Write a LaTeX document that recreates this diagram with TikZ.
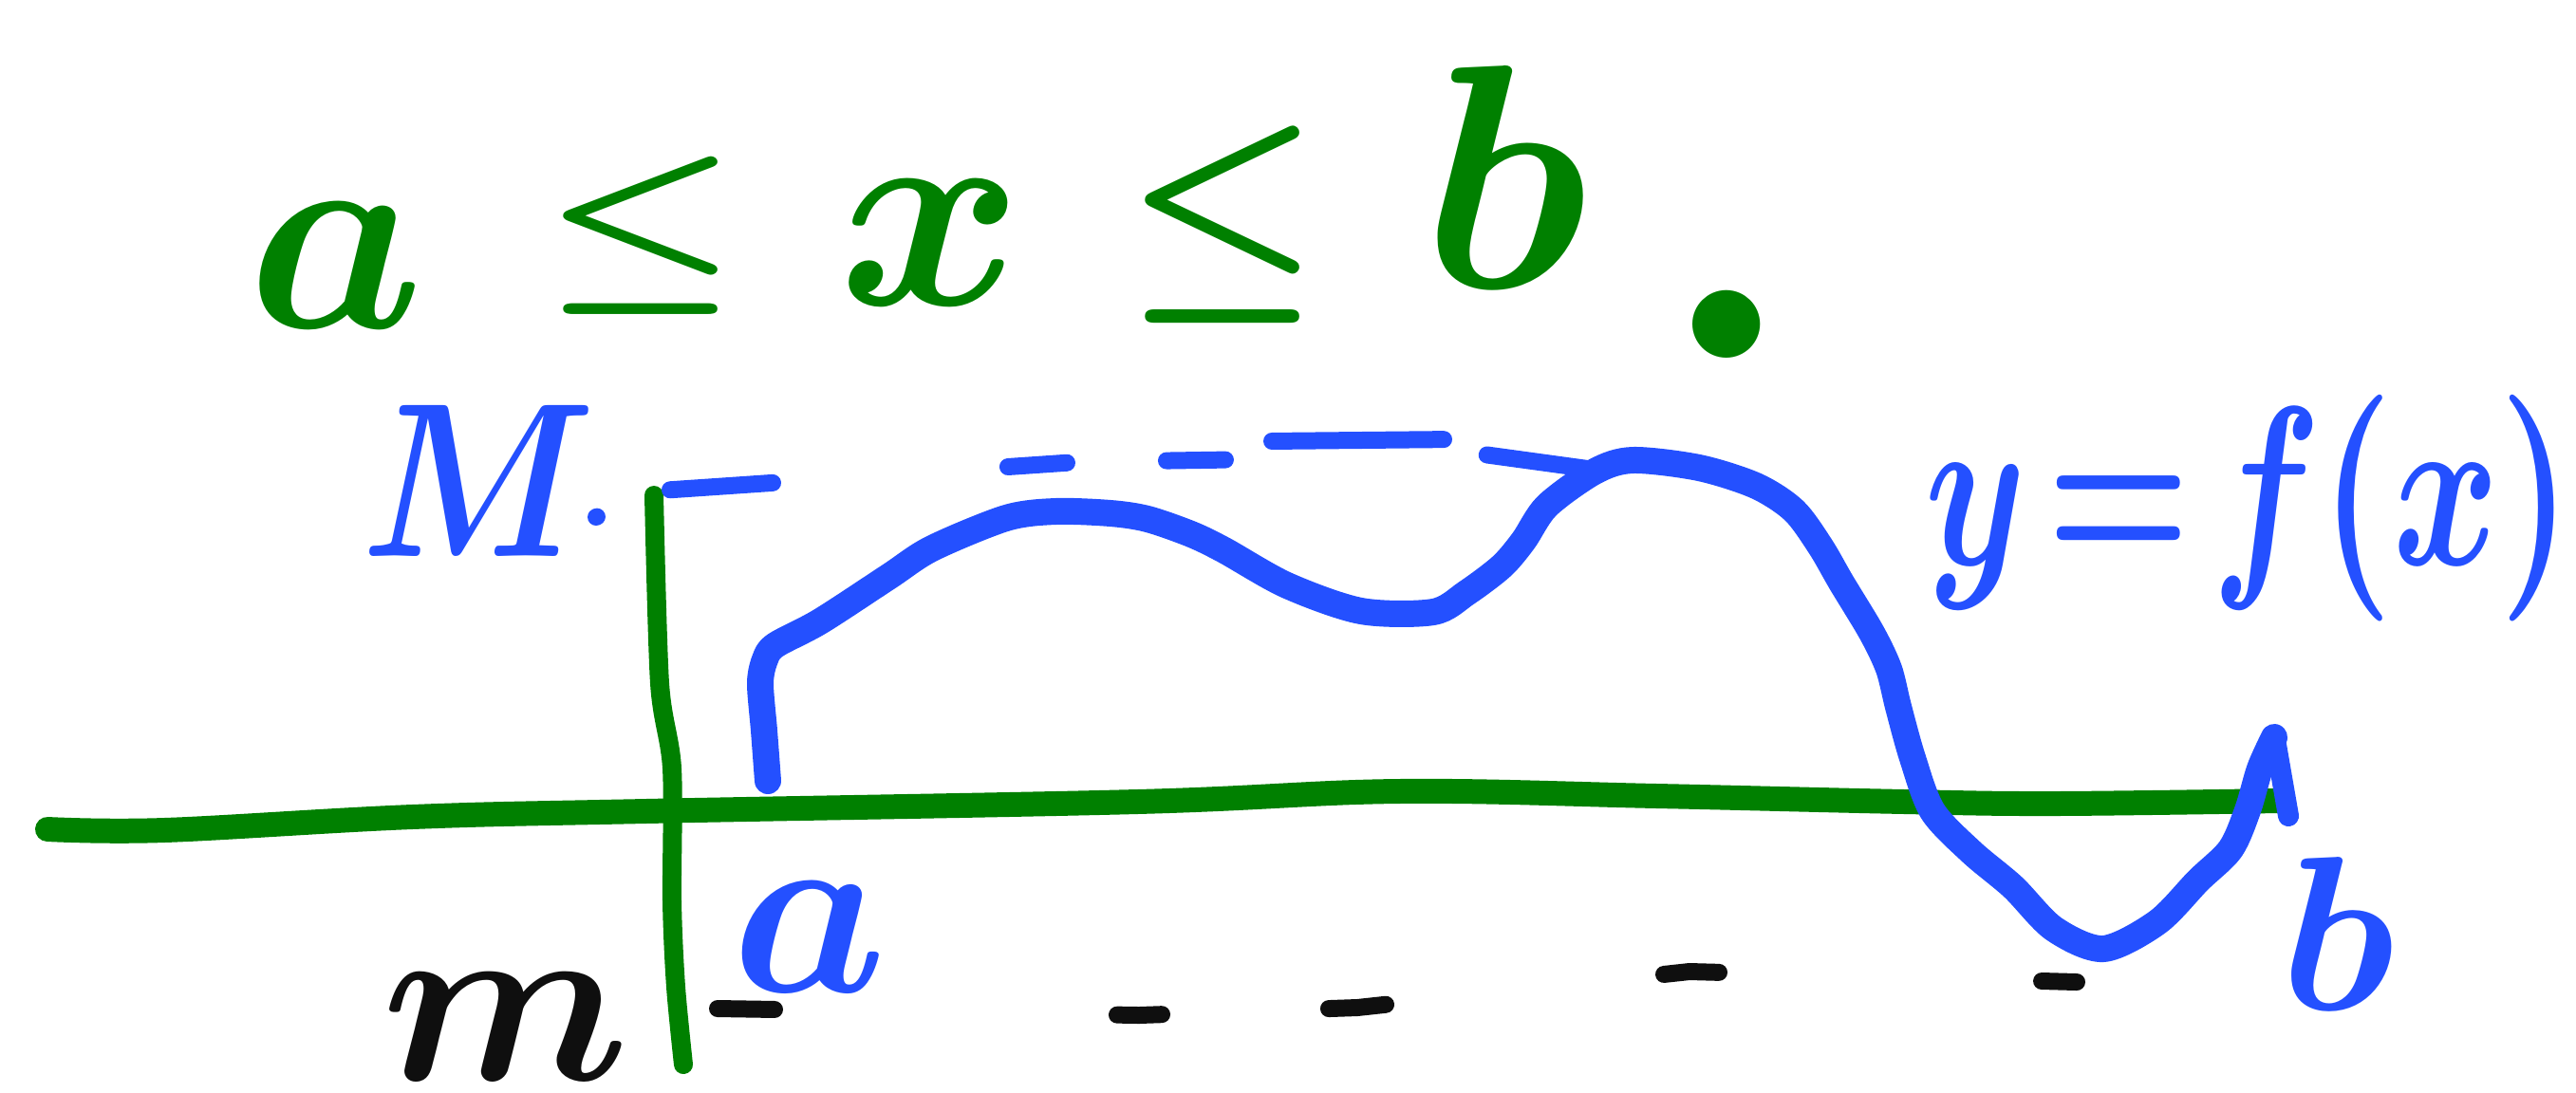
\documentclass[tikz,border=0pt]{standalone}
\usepackage{graphicx}

% scalable math fonts for the large pen letters
\DeclareFontShape{OML}{cmm}{m}{it}{<->cmmi10}{}
\DeclareFontShape{OML}{cmm}{b}{it}{<->cmmib10}{}
\DeclareFontShape{OMS}{cmsy}{m}{n}{<->cmsy10}{}
\DeclareFontShape{OMS}{cmsy}{b}{n}{<->cmbsy10}{}
\DeclareFontShape{OT1}{cmr}{m}{n}{<->cmr10}{}
\DeclareFontShape{OT1}{cmr}{bx}{n}{<->cmbx10}{}

\definecolor{penGreen}{RGB}{0,128,0}
\definecolor{penBlue}{RGB}{36,80,255}
\definecolor{penBlack}{RGB}{15,15,15}

% raised, sized and (horizontally, vertically) scaled pen glyph
\newcommand{\penglyph}[5]{\raisebox{#1}{\scalebox{#3}[#4]{\fontsize{#2}{#2}\selectfont$#5$}}}

\begin{document}
\begin{tikzpicture}[
  x=1cm, y=-1cm,
  axis line/.style={draw=penGreen, line width=2.6mm, line cap=round, line join=round},
  bound line/.style={draw=penGreen, line width=2mm, line cap=round, line join=round},
  graph line/.style={draw=penBlue, line width=2.8mm, line cap=round, line join=round},
  max line/.style={draw=penBlue, line width=1.8mm, line cap=round, line join=round,
    dash pattern=on 0.01cm off 0.826cm on 1.083cm off 2.485cm on 0.622cm off 1.05cm
    on 0.62cm off 0.63cm on 1.81cm off 0.501cm on 2cm off 1cm},
  min line/.style={draw=penBlack, line width=1.8mm, line cap=round, line join=round,
    dash pattern=on 0.6cm off 3.61cm on 0.471cm off 1.76cm on 0.603cm off 2.947cm
    on 0.582cm off 3.401cm on 0.37cm off 1cm},
  pen label/.style={inner sep=0pt, anchor=base west, font=\boldmath}
]
\useasboundingbox (0,0) rectangle (27.14,11.51);

% -----------------------------------------------------------------------------
% Labels written with the pen.
% -----------------------------------------------------------------------------
\node[pen label, text=penGreen] (interval) at (2.60,3.30) {%
  \penglyph{-0.15cm}{84}{1}{1}{a}\hspace{1.24cm}%
  \penglyph{0.36cm}{66}{1}{0.8}{\le}\hspace{1.04cm}%
  \penglyph{0.09cm}{84}{1}{1}{x}\hspace{1.07cm}%
  \penglyph{0.36cm}{66}{1}{1}{\le}\hspace{1.05cm}%
  \penglyph{0.27cm}{96}{1}{1}{b}\hspace{0.74cm}%
  \penglyph{-0.47cm}{130}{1}{1}{.}};
\node[pen label, text=penBlue] (maxLabel) at (3.80,5.86) {\penglyph{0cm}{66}{0.85}{1}{M}};
\node[pen label, text=penBlue] (graphLabel) at (20.28,5.95)
  {\penglyph{0cm}{68}{0.71}{1}{y\!=\!f(x)}};
\node[pen label, text=penBlue] (aLabel) at (7.70,10.45) {\penglyph{0cm}{74}{1}{1}{a}};
\node[pen label, text=penBlue] (bLabel) at (24.02,10.64) {\penglyph{0cm}{66}{1}{1}{b}};
\node[pen label, text=penBlack] (minLabel) at (4.02,11.38) {\penglyph{0cm}{72}{1}{1}{m}};

% -----------------------------------------------------------------------------
% Axis and the left bound x = a.
% -----------------------------------------------------------------------------
\draw[axis line] plot[smooth, tension=0.6] coordinates {
  (0.50,8.74) (1.73,8.75) (4.34,8.61) (6.80,8.55) (11.98,8.45)
  (14.73,8.34) (17.46,8.39) (20.07,8.45) (21.64,8.47) (24.00,8.44)};
\draw[bound line] plot[smooth, tension=0.5] coordinates {
  (6.89,5.22) (6.95,7.20) (7.08,8.10) (7.08,9.50) (7.12,10.40) (7.20,11.22)};

% -----------------------------------------------------------------------------
% The graph of f, with its highest and lowest points.
% -----------------------------------------------------------------------------
\coordinate (peak) at (17.20,4.85);
\coordinate (trough) at (22.16,10.00);

\draw[graph line] plot[smooth, tension=0.5] coordinates {
  (8.09,8.23) (8.05,7.70) (8.01,7.20) (8.06,6.95) (8.17,6.80) (8.64,6.55)
  (9.36,6.08) (9.82,5.78) (10.60,5.46) (11.12,5.39) (11.70,5.41) (12.09,5.47)
  (12.55,5.63) (12.90,5.80) (13.56,6.17) (14.34,6.44) (15.10,6.45) (15.45,6.25)
  (15.82,5.97) (16.05,5.70) (16.30,5.33) (16.80,4.97) (peak) (17.90,4.93)
  (18.50,5.12) (18.90,5.38) (19.18,5.76) (19.40,6.14) (19.72,6.67) (19.90,7.05)
  (20.00,7.45) (20.15,7.99) (20.36,8.55) (20.77,8.98) (21.21,9.35) (21.64,9.79)
  (trough) (22.73,9.72) (23.16,9.28) (23.50,8.95) (23.68,8.54) (23.81,8.10)
  (23.96,7.77)};
\draw[graph line, line width=2.2mm] (23.98,7.85) -- (24.11,8.60);

% Dashed levels of the maximum M and the minimum m.
\draw[max line] (6.28,5.45) -- (6.95,5.17) -- (11.35,4.87) -- (13.29,4.84)
  -- (13.35,4.65) -- (15.32,4.63) -- (15.56,4.78) -- (16.80,4.95);
\draw[min line] (7.56,10.63) -- (12.00,10.70) -- (14.30,10.62) -- (17.80,10.24)
  -- (21.88,10.35);

\end{tikzpicture}
\end{document}
